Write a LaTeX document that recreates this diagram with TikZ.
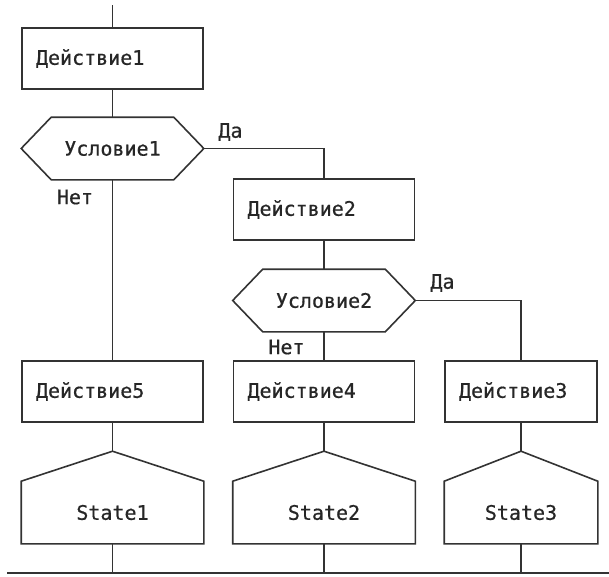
\documentclass[tikz,border=0pt]{standalone}
\usepackage{fontspec}
\setmonofont[FakeBold=0.6]{DejaVu Sans Mono}
\usetikzlibrary{calc}

\tikzset{
  act/.style={draw, minimum width=181pt, minimum height=61pt, inner xsep=14pt,
    text width=153pt, align=left},
  cond/.style={minimum width=181pt, minimum height=61pt},
  stbox/.style={minimum width=181pt, minimum height=61pt}
}

\begin{document}
\begin{tikzpicture}[x=1pt, y=-1pt, line width=1.6pt, draw=black!80, text=black!85,
  font=\ttfamily\fontsize{20}{24}\selectfont]
\useasboundingbox[fill=white] (0,0) rectangle (609,576);
\node[act] (d1) at (112.5,58.5) {Действие1};
\node[cond] (u1) at (112.5,148.5) {Условие1};
\node[act] (d2) at (324,209.5) {Действие2};
\node[cond] (u2) at (324,300.5) {Условие2};
\node[act] (d5) at (112.5,391.5) {Действие5};
\node[act] (d4) at (324,391.5) {Действие4};
\node[act, minimum width=152pt, text width=124pt] (d3) at (521,391.5) {Действие3};
\node[stbox] (s1) at (112.5,512.5) {State1};
\node[stbox] (s2) at (324,512.5) {State2};
\node[stbox, minimum width=152pt] (s3) at (521,512.5) {State3};

\node (da1) at (230.5,132) {Да};
\node (net1) at (75,197) {Нет};
\node (da2) at (442.5,283) {Да};
\node (net2) at (286.5,347) {Нет};

\foreach \n in {u1,u2}
  \draw ([xshift=30pt]\n.north west) -- ([xshift=-30pt]\n.north east) -- (\n.east)
    -- ([xshift=-30pt]\n.south east) -- ([xshift=30pt]\n.south west) -- (\n.west) -- cycle;
\foreach \n in {s1,s2,s3}{
  \coordinate (\n-top) at ([yshift=30pt]\n.north);
  \draw (\n.north west) -- (\n-top) -- (\n.north east) -- (\n.south east)
    -- (\n.south west) -- cycle;
}

\coordinate (start) at (112.5,5);
\coordinate (bl) at (7,573);
\coordinate (br) at (609,573);
\draw (start) -- (d1);
\draw (d1) -- (u1);
\draw (u1) -- (d5);
\draw (u1.east) -| (d2);
\draw (d2) -- (u2);
\draw (u2) -- (d4);
\draw (u2.east) -| (d3);
\draw (d5) -- (s1-top);
\draw (d4) -- (s2-top);
\draw (d3) -- (s3-top);
\foreach \n in {s1,s2,s3}
  \draw (\n) -- (\n |- bl);
\draw (bl) -- (br);
\end{tikzpicture}
\end{document}
